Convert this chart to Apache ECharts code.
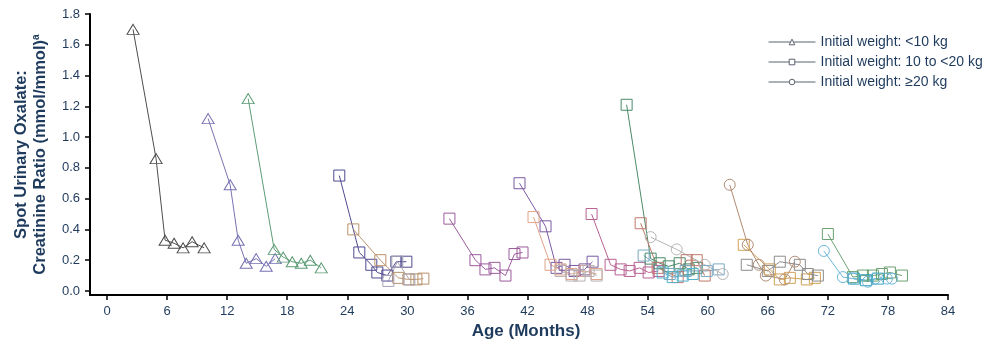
<!DOCTYPE html>
<html>
<head>
<meta charset="utf-8">
<script src="https://cdn.jsdelivr.net/npm/echarts@6/dist/echarts.min.js"></script>
<style>
  html, body { margin: 0; padding: 0; background: #fff; }
  #chart { width: 998px; height: 345px; }
</style>
</head>
<body>
<div id="chart"></div>
<script>
// tick labels
const xTicks = [0, 6, 12, 18, 24, 30, 36, 42, 48, 54, 60, 66, 72, 78, 84];
const yTicks = [0, 0.2, 0.4, 0.6, 0.8, 1.0, 1.2, 1.4, 1.6, 1.8];
const groupNames = ['Initial weight: <10 kg', 'Initial weight: 10 to <20 kg', 'Initial weight: \u226520 kg'];

// initial weight <10 kg (triangles)
const t1Age = [2.6, 4.9, 5.8, 6.7, 7.6, 8.5, 9.7];
const t1Val = [1.70, 0.86, 0.33, 0.31, 0.28, 0.32, 0.28];
const t2Age = [10.1, 12.3, 13.1, 13.9, 14.9, 15.9, 16.8];
const t2Val = [1.12, 0.69, 0.33, 0.18, 0.21, 0.16, 0.21];
const t3Age = [14.1, 16.7, 17.6, 18.5, 19.4, 20.3, 21.4];
const t3Val = [1.25, 0.27, 0.22, 0.19, 0.18, 0.20, 0.15];

// initial weight 10 to <20 kg (squares)
const s1Age = [23.2, 25.2, 26.4, 27.0, 28.0, 28.9, 29.9];
const s1Val = [0.75, 0.25, 0.17, 0.12, 0.10, 0.19, 0.19];
const s2Age = [24.6, 27.3, 29.1, 30.1, 30.9, 31.6];
const s2Val = [0.40, 0.20, 0.085, 0.075, 0.075, 0.08];
const s3Age = [28.1, 29.0, 30.2];
const s3Val = [0.065, 0.19, 0.075];
const s4Age = [34.2, 36.8, 37.8, 38.7, 39.8, 40.7, 41.5];
const s4Val = [0.47, 0.20, 0.14, 0.15, 0.10, 0.24, 0.25];
const s5Age = [41.2, 43.8, 44.9, 45.7, 46.7, 47.7, 48.5];
const s5Val = [0.70, 0.42, 0.15, 0.17, 0.13, 0.14, 0.19];
const s6Age = [42.6, 44.3, 45.3, 46.4, 47.7, 48.9];
const s6Val = [0.48, 0.17, 0.14, 0.11, 0.13, 0.11];
const s7Age = [45.3, 46.4, 47.2, 48.1, 48.9];
const s7Val = [0.13, 0.10, 0.10, 0.13, 0.10];
const s8Age = [48.4, 50.3, 51.3, 52.2, 53.2, 54.1, 55.1];
const s8Val = [0.50, 0.17, 0.14, 0.13, 0.15, 0.12, 0.13];
const s9Age = [51.9, 54.3, 55.2, 56.1, 57.2, 58.1, 58.9];
const s9Val = [1.21, 0.21, 0.18, 0.16, 0.18, 0.14, 0.15];
const s10Age = [53.3, 55.0, 57.0, 57.9, 58.9, 59.7];
const s10Val = [0.44, 0.15, 0.09, 0.20, 0.20, 0.10];
const s11Age = [53.6, 56.2, 57.8, 59.9, 61.1];
const s11Val = [0.23, 0.11, 0.13, 0.13, 0.14];
const s12Age = [55.5, 56.5, 57.5, 58.5];
const s12Val = [0.12, 0.09, 0.10, 0.11];
const s13Age = [63.6, 66.2, 67.2, 68.2, 69.9, 70.7];
const s13Val = [0.30, 0.14, 0.075, 0.085, 0.075, 0.085];
const s14Age = [63.9, 66.0, 67.2, 69.2, 70.0, 71.0];
const s14Val = [0.17, 0.13, 0.19, 0.17, 0.11, 0.10];
const s15Age = [72.0, 74.5, 75.5, 76.5, 77.4, 78.2, 79.4];
const s15Val = [0.37, 0.09, 0.10, 0.10, 0.11, 0.12, 0.10];
const s16Age = [74.6, 75.8, 77.0];
const s16Val = [0.08, 0.07, 0.08];

// initial weight >=20 kg (circles)
const c1Age = [54.3, 56.9, 59.7, 61.5];
const c1Val = [0.35, 0.27, 0.17, 0.11];
const c2Age = [62.2, 64.0, 65.1, 65.8, 67.7, 68.7];
const c2Val = [0.69, 0.30, 0.17, 0.10, 0.075, 0.19];
const c3Age = [71.6, 73.5, 74.5, 76.0, 76.7, 77.9, 78.4];
const c3Val = [0.26, 0.09, 0.08, 0.06, 0.08, 0.08, 0.08];

const subjects = [
  { age: t1Age, val: t1Val, g: 0, color: '#4d4d4d' },
  { age: t2Age, val: t2Val, g: 0, color: '#7772b2' },
  { age: t3Age, val: t3Val, g: 0, color: '#5c9c76' },
  { age: s1Age, val: s1Val, g: 1, color: '#4f4a92' },
  { age: s2Age, val: s2Val, g: 1, color: '#b8926c' },
  { age: s3Age, val: s3Val, g: 1, color: '#a9a4b4' },
  { age: s4Age, val: s4Val, g: 1, color: '#9c5c9c' },
  { age: s5Age, val: s5Val, g: 1, color: '#7a5aa2' },
  { age: s6Age, val: s6Val, g: 1, color: '#e2a38a' },
  { age: s7Age, val: s7Val, g: 1, color: '#b9b0b0' },
  { age: s8Age, val: s8Val, g: 1, color: '#b86292' },
  { age: s9Age, val: s9Val, g: 1, color: '#4a8a6a' },
  { age: s10Age, val: s10Val, g: 1, color: '#c0786a' },
  { age: s11Age, val: s11Val, g: 1, color: '#7aa8c2' },
  { age: s12Age, val: s12Val, g: 1, color: '#52b0c8' },
  { age: s13Age, val: s13Val, g: 1, color: '#d0a256' },
  { age: s14Age, val: s14Val, g: 1, color: '#8c8c8c' },
  { age: s15Age, val: s15Val, g: 1, color: '#6aa070' },
  { age: s16Age, val: s16Val, g: 1, color: '#3aa4bc' },
  { age: c1Age, val: c1Val, g: 2, color: '#b4b4b4' },
  { age: c2Age, val: c2Val, g: 2, color: '#b08a72' },
  { age: c3Age, val: c3Val, g: 2, color: '#6cb6da' }
];

const symbols = ['triangle', 'rect', 'circle'];
const symbolSizes = [[12, 10], 11, 11];
const textColor = '#1e3a5c';
const legendColor = '#5a6272';

const chart = echarts.init(document.getElementById('chart'));

const series = subjects.map((s) => ({
  type: 'line',
  data: s.age.map((a, i) => [a, s.val[i]]),
  symbol: symbols[s.g],
  symbolSize: symbolSizes[s.g],
  showSymbol: true,
  lineStyle: { width: 1, color: s.color },
  itemStyle: { color: 'rgba(0,0,0,0)', borderColor: s.color, borderWidth: 1 },
  emphasis: { disabled: true },
  z: 2
}));

// legend-only series
groupNames.forEach((name, g) => {
  series.push({
    name: name,
    type: 'line',
    data: [],
    symbol: symbols[g],
    lineStyle: { width: 1, color: legendColor },
    itemStyle: { color: '#ffffff', borderColor: legendColor, borderWidth: 1 }
  });
});

const option = {
  animation: false,
  grid: { left: 90, top: 14, right: 50, bottom: 46 },
  legend: {
    data: groupNames,
    orient: 'vertical',
    left: 763,
    top: 29,
    itemWidth: 47,
    itemHeight: 7,
    itemGap: 4,
    itemStyle: { color: '#ffffff', borderColor: legendColor, borderWidth: 1 },
    lineStyle: { width: 1, color: legendColor },
    textStyle: { color: textColor, fontSize: 14, fontFamily: 'Liberation Sans', lineHeight: 16 }
  },
  xAxis: {
    type: 'value',
    min: -1.7,
    max: 84,
    name: 'Age (Months)',
    nameLocation: 'middle',
    nameGap: 25,
    nameTextStyle: { color: textColor, fontSize: 17, fontWeight: 'bold', fontFamily: 'Liberation Sans', padding: [0, 0, 0, 14] },
    axisLine: { onZero: false, lineStyle: { color: '#000', width: 2 } },
    axisTick: { length: 5, customValues: xTicks, lineStyle: { color: '#000', width: 1.5 } },
    axisLabel: { customValues: xTicks, color: textColor, fontSize: 13, margin: 10, fontFamily: 'Liberation Sans' },
    splitLine: { show: false }
  },
  yAxis: {
    type: 'value',
    min: -0.027,
    max: 1.8,
    name: '{t|Spot Urinary Oxalate:}\n{t|Creatinine Ratio (mmol/mmol)}{s|a}',
    nameLocation: 'middle',
    nameGap: 40,
    nameTextStyle: {
      rich: {
        t: { color: textColor, fontSize: 16.5, fontWeight: 'bold', fontFamily: 'Liberation Sans', lineHeight: 19 },
        s: { color: textColor, fontSize: 10, fontWeight: 'bold', fontFamily: 'Liberation Sans', verticalAlign: 'top', lineHeight: 19 }
      }
    },
    axisLine: { show: true, onZero: false, lineStyle: { color: '#000', width: 2 } },
    axisTick: { show: true, length: 5, customValues: yTicks, lineStyle: { color: '#000', width: 1.5 } },
    axisLabel: {
      customValues: yTicks,
      color: textColor,
      fontSize: 13,
      margin: 10,
      fontFamily: 'Liberation Sans',
      formatter: (v) => v.toFixed(1)
    },
    splitLine: { show: false }
  },
  series: series
};

chart.setOption(option);
window.addEventListener('resize', () => chart.resize());
</script>
</body>
</html>
